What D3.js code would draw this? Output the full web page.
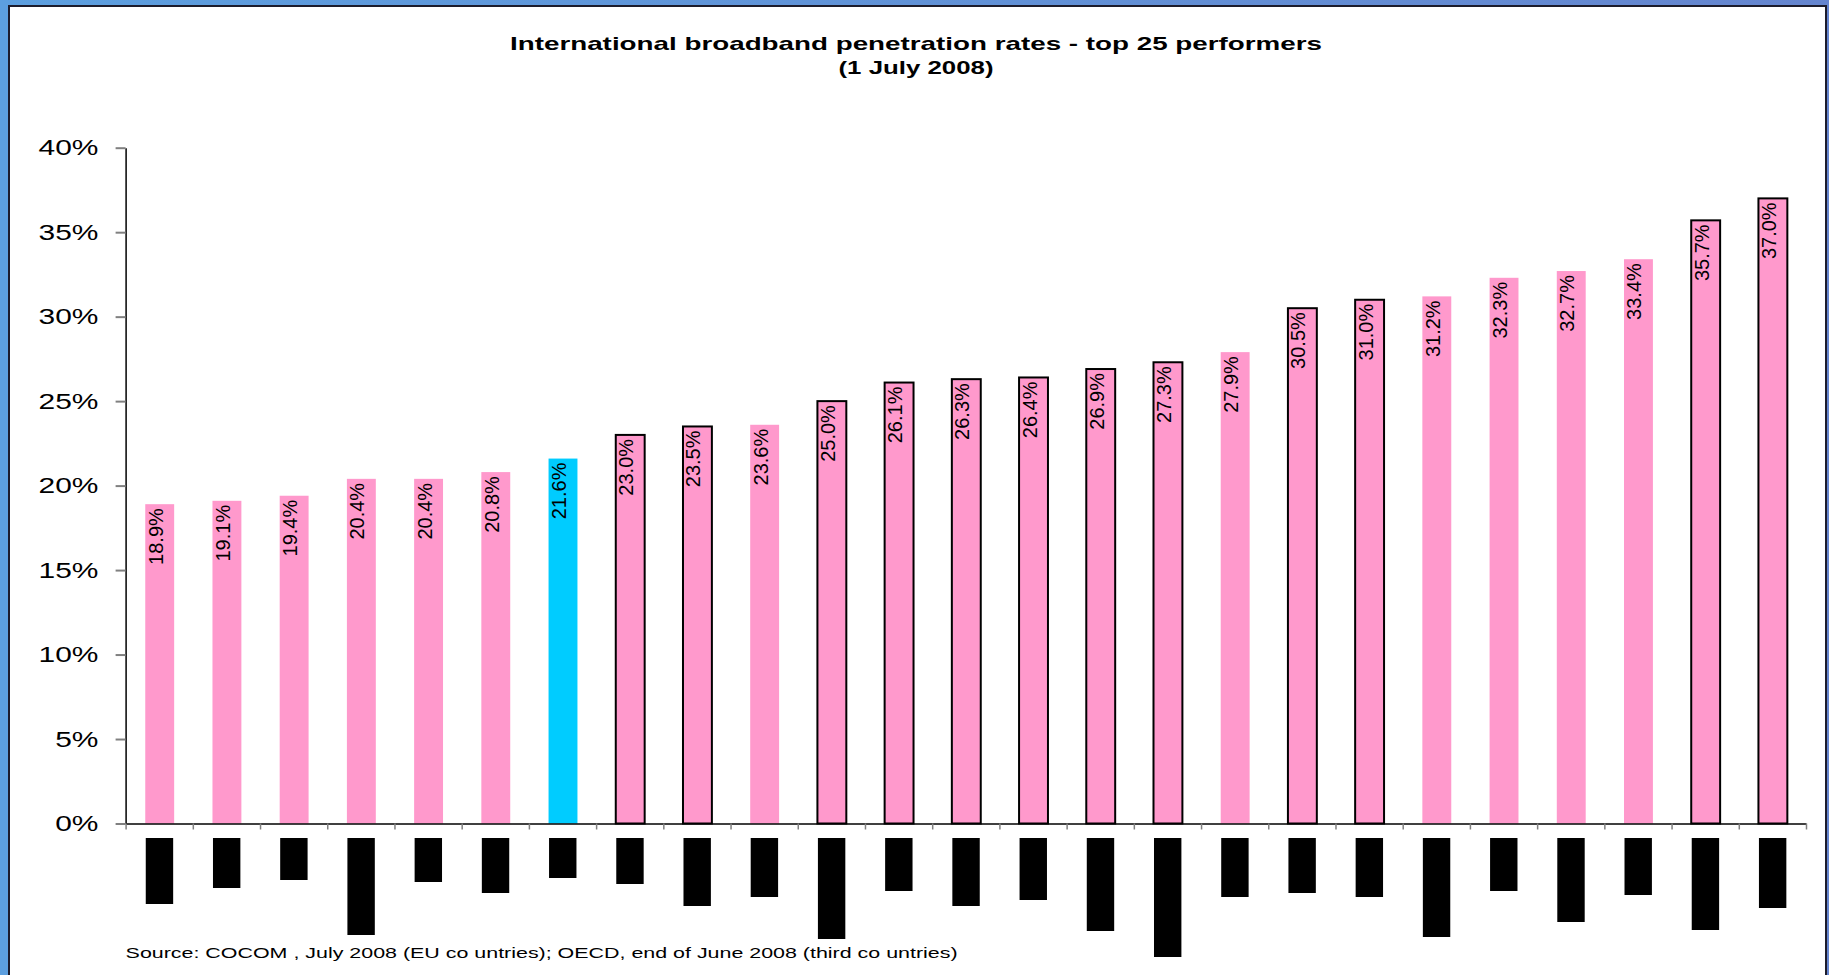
<!DOCTYPE html>
<html>
<head>
<meta charset="utf-8">
<script src="https://cdn.jsdelivr.net/npm/d3@7"></script>
<style>
  html, body { margin: 0; padding: 0; background: #fff; }
  svg { display: block; font-family: "Liberation Sans", Arial, sans-serif; }
</style>
</head>
<body>
<svg id="chart" width="1829" height="975"></svg>
<script>
// ranks of the 25 countries (names are blacked out in the source)
const rank = [25, 24, 23, 22, 21, 20, 19, 18, 17, 16, 15, 14, 13, 12, 11, 10, 9, 8, 7, 6, 5, 4, 3, 2, 1];
// broadband penetration, %
const penetration = [18.9, 19.1, 19.4, 20.4, 20.4, 20.8, 21.6, 23.0, 23.5, 23.6, 25.0, 26.1, 26.3, 26.4, 26.9, 27.3, 27.9, 30.5, 31.0, 31.2, 32.3, 32.7, 33.4, 35.7, 37.0];
// 1 = bar has a black outline
const outlined = [0, 0, 0, 0, 0, 0, 0, 1, 1, 0, 1, 1, 1, 1, 1, 1, 0, 1, 1, 0, 0, 0, 0, 1, 1];
// the highlighted country
const highlight = [0, 0, 0, 0, 0, 0, 1, 0, 0, 0, 0, 0, 0, 0, 0, 0, 0, 0, 0, 0, 0, 0, 0, 0, 0];
// length of the black box hiding each country name
const maskLength = [66, 50, 42, 97, 44, 55, 40, 46, 68, 59, 101, 53, 68, 62, 93, 119, 59, 55, 59, 99, 53, 84, 57, 92, 70];
const yTicks = [0, 5, 10, 15, 20, 25, 30, 35, 40];

const titleLines = ["International broadband penetration rates - top 25 performers", "(1 July 2008)"];
const sourceText = "Source: COCOM , July 2008 (EU co untries); OECD, end of June 2008 (third co untries)";

const W = 1829, H = 975;
const svg = d3.select("#chart");

// blue slide background + white panel
const grad = svg.append("defs").append("linearGradient")
    .attr("id", "bg").attr("x1", "0").attr("y1", "0").attr("x2", "1").attr("y2", "0");
grad.append("stop").attr("offset", "0").attr("stop-color", "#5c9fdf");
grad.append("stop").attr("offset", "1").attr("stop-color", "#6585cf");
svg.append("rect").attr("width", W).attr("height", H).attr("fill", "url(#bg)");
svg.append("rect")
    .attr("x", 9).attr("y", 6).attr("width", 1817).attr("height", H + 10)
    .attr("fill", "#fff").attr("stroke", "#1c1c2c").attr("stroke-width", 2);

const plotLeft = 125.6, plotRight = 1806, plotTop = 147.7, plotBottom = 823.5;

const x = d3.scaleBand().domain(rank).range([plotLeft, plotRight]).padding(0);
const xEdge = d3.scaleLinear().domain([0, rank.length]).range([plotLeft, plotRight]);
const y = d3.scaleLinear().domain([0, 40]).range([plotBottom, plotTop]);
const maskY = d3.scaleLinear().domain([0, 100]).range([838, 938]);

const barW = x.bandwidth() * 0.43;
const barX = d => x(d.rank) + (x.bandwidth() - barW) / 2 + 0.5;

const data = rank.map((r, i) => ({
    rank: r, value: penetration[i], boxed: outlined[i], hi: highlight[i], mask: maskLength[i]
}));

// title
svg.append("g").selectAll("text")
    .data(titleLines)
    .enter().append("text")
    .attr("x", 916)
    .attr("y", (d, i) => i == 0 ? 50 : 73.5)
    .attr("text-anchor", "middle")
    .attr("textLength", (d, i) => i == 0 ? 812 : 155)
    .attr("lengthAdjust", "spacingAndGlyphs")
    .style("font-weight", "bold")
    .style("font-size", "19px")
    .style("fill", "#000")
    .text(d => d);

// y axis
const yAxis = svg.append("g")
    .attr("transform", "translate(" + plotLeft + ",0)")
    .call(d3.axisLeft(y).tickValues(yTicks).tickSize(10).tickSizeOuter(0).tickPadding(10)
        .tickFormat(d => d + "%"));
yAxis.select(".domain").attr("stroke", "#000").attr("stroke-width", 1.5);
yAxis.selectAll(".tick line").attr("stroke", "#808080").attr("stroke-width", 2);
yAxis.selectAll(".tick text")
    .attr("transform", "scale(1.36,1)")
    .style("font-size", "22px")
    .style("fill", "#000");

// bars
svg.append("g").selectAll("rect")
    .data(data)
    .enter().append("rect")
    .attr("x", barX)
    .attr("y", d => y(d.value))
    .attr("width", barW)
    .attr("height", d => y(0) - y(d.value))
    .style("fill", d => d.hi ? "#00ccff" : "#ff99cc")
    .style("stroke", d => d.boxed ? "#000" : "none")
    .style("stroke-width", 2);

// x axis (ticks between categories)
const xAxis = svg.append("g")
    .attr("transform", "translate(0," + plotBottom + ")")
    .call(d3.axisBottom(xEdge).tickValues(d3.range(rank.length + 1)).tickSize(6).tickSizeOuter(0).tickFormat(""));
xAxis.select(".domain").attr("stroke", "#000").attr("stroke-width", 1.5);
xAxis.selectAll(".tick line").attr("stroke", "#808080").attr("stroke-width", 1.5);

// value labels, rotated inside the bar tops
svg.append("g").selectAll("text")
    .data(data)
    .enter().append("text")
    .attr("transform", d => "translate(" + (x(d.rank) + x.bandwidth() / 2 + 3.5) + "," + (y(d.value) + 4) + ") rotate(-90)")
    .attr("text-anchor", "end")
    .style("font-size", "20px")
    .style("fill", "#000")
    .text(d => d.value.toFixed(1) + "%");

// blacked-out country names
svg.append("g").selectAll("rect")
    .data(data)
    .enter().append("rect")
    .attr("x", d => barX(d) + 0.5)
    .attr("y", maskY(0))
    .attr("width", barW - 1.5)
    .attr("height", d => maskY(d.mask) - maskY(0))
    .style("fill", "#000");

// source note
svg.append("text")
    .attr("x", plotLeft)
    .attr("y", 958)
    .attr("textLength", 832)
    .attr("lengthAdjust", "spacingAndGlyphs")
    .style("font-size", "15px")
    .style("fill", "#000")
    .text(sourceText);
</script>
</body>
</html>
